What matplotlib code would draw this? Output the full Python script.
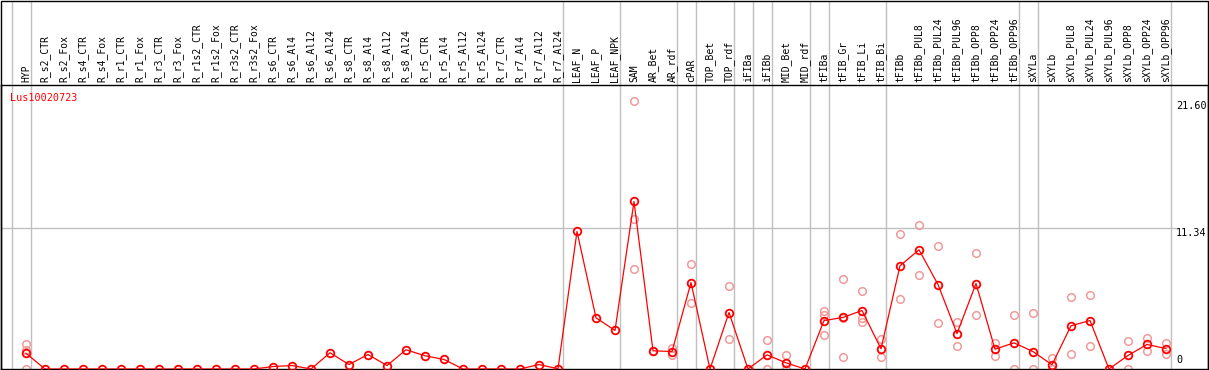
import matplotlib
matplotlib.use("Agg")
import matplotlib.pyplot as plt
from matplotlib.patches import Rectangle

labels = [
    "HYP",
    "R_s2_CTR", "R_s2_Fox", "R_s4_CTR", "R_s4_Fox", "R_r1_CTR", "R_r1_Fox",
    "R_r3_CTR", "R_r3_Fox", "R_r1s2_CTR", "R_r1s2_Fox", "R_r3s2_CTR", "R_r3s2_Fox",
    "R_s6_CTR", "R_s6_Al4", "R_s6_Al12", "R_s6_Al24",
    "R_s8_CTR", "R_s8_Al4", "R_s8_Al12", "R_s8_Al24",
    "R_r5_CTR", "R_r5_Al4", "R_r5_Al12", "R_r5_Al24",
    "R_r7_CTR", "R_r7_Al4", "R_r7_Al12", "R_r7_Al24",
    "LEAF_N", "LEAF_P", "LEAF_NPK",
    "SAM", "AR_Bet", "AR_rdf", "cPAR", "TOP_Bet", "TOP_rdf",
    "iFIBa", "iFIBb", "MID_Bet", "MID_rdf",
    "tFIBa", "tFIB_Gr", "tFIB_Li", "tFIB_Bi",
    "tFIBb", "tFIBb_PUL8", "tFIBb_PUL24", "tFIBb_PUL96",
    "tFIBb_OPP8", "tFIBb_OPP24", "tFIBb_OPP96",
    "sXYLa", "sXYLb", "sXYLb_PUL8", "sXYLb_PUL24", "sXYLb_PUL96",
    "sXYLb_OPP8", "sXYLb_OPP24", "sXYLb_OPP96",
]

means = [
    1.27,
    0, 0, 0, 0, 0, 0, 0, 0, 0, 0, 0, 0,
    0.2, 0.28, 0, 1.31,
    0.36, 1.17, 0.28, 1.55,
    1.07, 0.77, 0, 0,
    0, 0, 0.36, 0.02,
    11.1, 4.13, 3.11,
    13.52, 1.47, 1.41, 6.98, 0, 4.56,
    0, 1.14, 0.5, 0,
    3.91, 4.16, 4.72, 1.63,
    8.33, 9.62, 6.82, 2.86,
    6.9, 1.6, 2.11,
    1.41, 0.34, 3.49, 3.91, 0,
    1.09, 1.98, 1.65,
]

# replicate values, one list per column (empty where none is drawn)
replicates = [
    [1.98, 1.5, 0],
    [], [], [], [], [], [], [], [], [], [], [], [],
    [], [], [], [],
    [], [], [], [],
    [], [], [], [],
    [], [], [], [],
    [], [], [],
    [21.6, 12.12, 8.09], [1.47], [1.68, 1.17], [8.51, 5.34], [], [6.71, 2.44],
    [], [2.38, 0], [1.09, 0], [],
    [4.67, 4.37, 2.78], [7.28, 4.1, 0.98], [6.31, 4.1, 3.81], [2.44, 0.93],
    [10.91, 5.66], [11.63, 7.6], [9.89, 3.73], [3.83, 1.82],
    [9.38, 4.37], [2.06, 1.07], [4.37, 0],
    [4.48, 0], [0.87, 0], [5.83, 1.23], [5.99, 1.82], [],
    [2.27, 0], [2.54, 1.47], [2.06, 1.23],
]

# group separators: vertical line after these column indices
group_ends = [-1, 0, 28, 31, 34, 35, 37, 38, 39, 41, 42, 45, 52, 53, 60]

gene = "Lus10020723"
y_max_label = 21.60
y_mid_label = 11.34

W, H = 1209, 370
fig = plt.figure(figsize=(W / 100, H / 100), dpi=100)
mono = "DejaVu Sans Mono"

# plot area: rows 85..369 from the top, columns 1..1208
ax = fig.add_axes([1 / W, 1 / H, 1207 / W, 284 / H])
ax.set_xlim((1 - 26) / 19, (1208 - 26) / 19)
ax.set_ylim(0, 284 / 12.39)
ax.set_xticks([])
ax.set_yticks([])
for s in ax.spines.values():
    s.set_color("black")
    s.set_linewidth(1.0)

xs = list(range(len(labels)))

# separators, reaching up through the header
for g in group_ends:
    ax.axvline(g + 0.247, ymin=0, ymax=1 + 84 / 284, color="#c0c0c0",
               linewidth=1.0, clip_on=False, zorder=1)
ax.axhline(y_mid_label, xmin=0, xmax=(1177 - 1) / 1207, color="#c0c0c0",
           linewidth=1.0, zorder=1)

# replicate points
rx, ry = [], []
for i, vals in enumerate(replicates):
    for v in vals:
        rx.append(i)
        ry.append(v)
ax.plot(rx, ry, linestyle="none", marker="o", markersize=5.5,
        markerfacecolor="none", markeredgecolor="#f09a9a",
        markeredgewidth=1.1, zorder=2)

# mean line
ax.plot(xs, means, color="red", linewidth=0.9, marker="o", markersize=5.5,
        markerfacecolor="none", markeredgecolor="red", markeredgewidth=1.3,
        zorder=3)

# column labels in the header
for i, lab in enumerate(labels):
    ax.annotate(lab, xy=(i, 1), xycoords=("data", "axes fraction"),
                xytext=(0, 3), textcoords="offset pixels", rotation=90,
                ha="center", va="bottom", fontsize=7, family=mono,
                annotation_clip=False)

# gene name
ax.text(9 / 1207, 1 - 8 / 284, gene, transform=ax.transAxes, color="red",
        fontsize=7.3, family=mono, ha="left", va="top")

# value labels on the right
xlab = (1176 - 1) / 1207
ax.text(xlab, y_max_label, f"{y_max_label:.2f}",
        transform=ax.get_yaxis_transform(), ha="left", va="top",
        fontsize=7.3, family=mono)
ax.text(xlab, y_mid_label, f"{y_mid_label:.2f}",
        transform=ax.get_yaxis_transform(), ha="left", va="top",
        fontsize=7.3, family=mono)
ax.text(xlab, 0.3, "0", transform=ax.get_yaxis_transform(), ha="left",
        va="bottom", fontsize=7.3, family=mono)

# outer frame around header and plot
fig.patches.append(Rectangle((0.5 / W, 0.5 / H), 1207.5 / W, 369 / H,
                             fill=False, edgecolor="black", linewidth=1.0,
                             transform=fig.transFigure, figure=fig))

fig.savefig("out.png", dpi=100)
plt.close(fig)
